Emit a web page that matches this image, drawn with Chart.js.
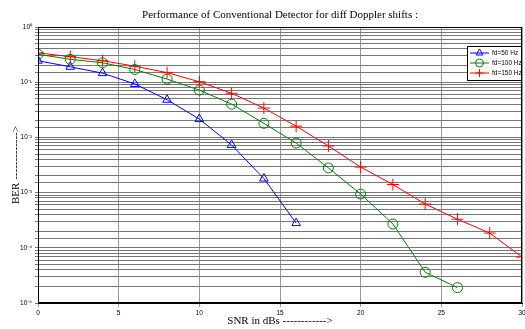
<!DOCTYPE html>
<html><head><meta charset="utf-8">
<script src="https://cdn.jsdelivr.net/npm/chart.js@4/dist/chart.umd.min.js"></script>
<style>html,body{margin:0;padding:0;background:#fff;overflow:hidden}#wrap{width:525px;height:329px}</style>
</head><body><div id="wrap"><canvas id="c" width="525" height="329"></canvas></div>
<script>
const snr50 = [0,2,4,6,8,10,12,14,16];
const ber50 = [0.245,0.19,0.146,0.093,0.048,0.0215,0.0073,0.0018,0.00028];
const snr100 = [0,2,4,6,8,10,12,14,16,18,20,22,24,26];
const ber100 = [0.32,0.26,0.225,0.17,0.114,0.072,0.04,0.018,0.0079,0.0028,0.00094,0.00027,0.000036,0.000019];
const snr150 = [0,2,4,6,8,10,12,14,16,18,20,22,24,26,28,30];
const ber150 = [0.34,0.29,0.245,0.195,0.149,0.102,0.063,0.034,0.016,0.007,0.0029,0.0014,0.00062,0.00033,0.000185,0.000068];
const xTicks = [0,5,10,15,20,25,30];
const seriesNames = ['fd=50 Hz','fd=100 Hz','fd=150 Hz'];
const titleText = 'Performance of Conventional Detector for diff Doppler shifts :';
const xTitle = 'SNR in dBs ------------>';
const yTitle = 'BER ------------->';
const sup = {'0':'\u2070','1':'\u00b9','2':'\u00b2','3':'\u00b3','4':'\u2074','5':'\u2075','-':'\u207b'};

function pts(xs, ys){ return xs.map((x,i)=>({x:x,y:ys[i]})); }

const extras = {
  id:'extras',
  afterDraw(chart){
    const ctx = chart.ctx, a = chart.chartArea;
    ctx.save();
    ctx.strokeStyle = '#000'; ctx.lineWidth = 1;
    ctx.strokeRect(a.left+0.5, a.top+0.5, a.right-a.left-1, a.bottom-a.top-1);
    ctx.fillStyle = '#000';
    ctx.font = '11px "Liberation Serif", serif';
    ctx.textAlign = 'center'; ctx.textBaseline = 'middle';
    ctx.fillText(titleText, 280, 15);
    ctx.fillText(xTitle, 280, 321);
    ctx.translate(16, (a.top+a.bottom)/2);
    ctx.rotate(-Math.PI/2);
    ctx.fillText(yTitle, 0, 0);
    ctx.restore();
    // legend
    ctx.save();
    const lx = a.right - 55, ly = 46, lw = 54, lh = 34;
    ctx.fillStyle = '#fff'; ctx.fillRect(lx, ly, lw, lh);
    ctx.strokeStyle = '#000'; ctx.lineWidth = 1;
    ctx.strokeRect(lx+0.5, ly+0.5, lw, lh);
    ctx.font = '6.5px "Liberation Sans", Arial, sans-serif';
    ctx.textAlign = 'left'; ctx.textBaseline = 'middle';
    chart.data.datasets.forEach((ds,i)=>{
      const y = ly + 7 + i*10;
      ctx.strokeStyle = ds.borderColor; ctx.lineWidth = 1;
      ctx.beginPath(); ctx.moveTo(lx+3, y); ctx.lineTo(lx+22, y); ctx.stroke();
      ctx.fillStyle = 'rgba(0,0,0,0)';
      Chart.helpers.drawPoint(ctx, {pointStyle: ds.pointStyle, radius: 4, borderWidth: 1}, lx+12.5, y);
      ctx.fillStyle = '#000';
      ctx.fillText(ds.label, lx+25, y+0.5);
    });
    ctx.restore();
  }
};

new Chart(document.getElementById('c'), {
  type: 'line',
  data: {
    datasets: [
      {label: seriesNames[0], data: pts(snr50, ber50), borderColor:'#0000ff', backgroundColor:'rgba(0,0,0,0)', pointStyle:'triangle', pointRadius:5, pointBorderWidth:1, borderWidth:1, pointBorderColor:'#0000ff'},
      {label: seriesNames[1], data: pts(snr100, ber100), borderColor:'#008000', backgroundColor:'rgba(0,0,0,0)', pointStyle:'circle', pointRadius:5, pointBorderWidth:1, borderWidth:1, pointBorderColor:'#008000'},
      {label: seriesNames[2], data: pts(snr150, ber150), borderColor:'#ff0000', backgroundColor:'rgba(0,0,0,0)', pointStyle:'cross', pointRadius:6, pointBorderWidth:1, borderWidth:1, pointBorderColor:'#ff0000'}
    ]
  },
  options: {
    responsive:false, animation:false,
    layout:{autoPadding:false, padding:{top:27, right:3, left:0, bottom:0}},
    plugins:{legend:{display:false}, title:{display:false}, tooltip:{enabled:false}},
    elements:{line:{tension:0}},
    scales:{
      x:{type:'linear', min:0, max:30,
        afterBuildTicks(s){ s.ticks = xTicks.map(v=>({value:v})); },
        afterFit(s){ s.height = 26; s.paddingLeft = 0; s.paddingRight = 0; },
        ticks:{font:{size:6.5, family:'"Liberation Sans", Arial, sans-serif'}, color:'#000', padding:2, maxRotation:0, autoSkip:false},
        grid:{color:'#999', lineWidth:1, tickLength:4, drawTicks:true},
        border:{color:'#000'}
      },
      y:{type:'logarithmic', min:1e-5, max:1,
        afterFit(s){ s.width = 38; s.paddingTop = 0; s.paddingBottom = 0; },
        ticks:{autoSkip:false, font:{size:6.5, family:'"Liberation Sans", Arial, sans-serif'}, color:'#000', padding:3,
          callback(v){ const l = Math.log10(v); if (Math.abs(l-Math.round(l))<1e-6){ return '10' + String(Math.round(l)).split('').map(c=>sup[c]).join(''); } return ''; }},
        grid:{color:'#777', lineWidth:1, tickLength:3},
        border:{color:'#000'}
      }
    }
  },
  plugins:[extras]
});
</script></body></html>
